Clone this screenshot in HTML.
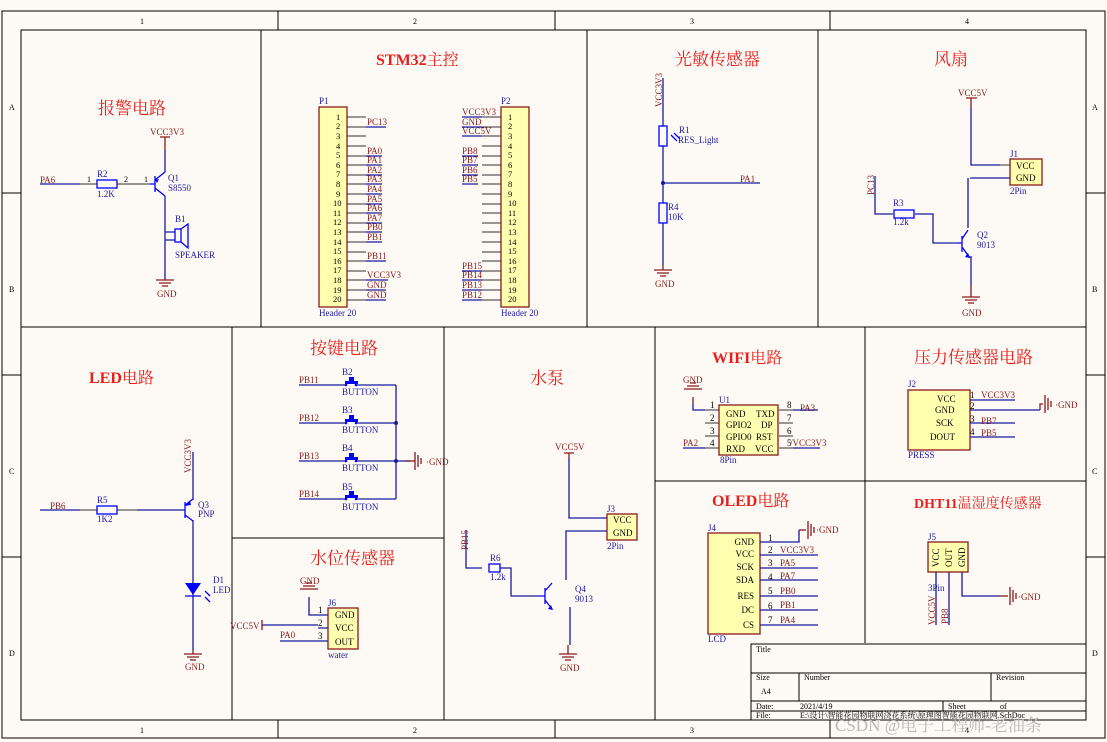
<!DOCTYPE html>
<html><head><meta charset="utf-8"><style>
html,body{margin:0;padding:0;background:#fff}
svg{display:block}
text{font-family:"Liberation Serif","Noto Serif CJK SC",serif}
.n{fill:#8b1a1a;font-size:9px}
.b{fill:#1a1aa0;font-size:9px}
.k{fill:#000;font-size:9px}
.t{fill:#e8201c;font-size:17px}
.tb{fill:#e8201c;font-size:16px;font-weight:bold}
.w{stroke:#1a1aa0;stroke-width:1.3;fill:none}
.r{stroke:#8b1a1a;stroke-width:1.3;fill:none}
.p{stroke:#333;stroke-width:1;fill:none}
.c{stroke:#0000ff;stroke-width:1.3;fill:none}
.f{stroke:#000;stroke-width:1;fill:none}
.h{fill:#ffffb0;stroke:#8b1a1a;stroke-width:1.3}
</style></head><body>
<svg width="1107" height="742" viewBox="0 0 1107 742" xmlns="http://www.w3.org/2000/svg">
<defs>
<g id="gnd"><path d="M-9 0H9M-6 3H6M-3 6H3" stroke="#8b1a1a" stroke-width="1.3"/></g>
<g id="gndr"><path d="M0 -9V9M3 -6V6M6 -3V3" stroke="#8b1a1a" stroke-width="1.3"/></g>
</defs>
<rect width="1107" height="742" fill="#fdfaf5"/>
<rect x="2" y="11" width="1103" height="727" class="f" stroke-width="1.5"/>
<rect x="21" y="30" width="1065" height="690" class="f" stroke-width="1.5"/>
<path class="f" d="M278 11V30M555 11V30M830 11V30M278 720V738M555 720V738M830 720V738M2 193H21M2 375H21M2 557H21M1086 193H1105M1086 375H1105M1086 557H1105"/>
<g class="k" style="font-size:8px">
<text x="140" y="24">1</text><text x="413" y="24">2</text><text x="690" y="24">3</text><text x="965" y="24">4</text>
<text x="140" y="733">1</text><text x="413" y="733">2</text><text x="690" y="733">3</text><text x="965" y="733">4</text>
<text x="9" y="110">A</text><text x="9" y="292">B</text><text x="9" y="474">C</text><text x="9" y="656">D</text>
<text x="1092" y="110">A</text><text x="1092" y="292">B</text><text x="1092" y="474">C</text><text x="1092" y="656">D</text>
</g>
<!-- section dividers -->
<path class="f" d="M261 30V327M587 30V327M818 30V327M21 327H1086M232 327V720M444 327V720M232 538H444M655 327V720M865 327V643M655 481H1086"/>
<!-- title block -->
<path class="f" d="M751 720V644H1086M751 673H1086M751 701H1086M751 711H1086M799 673V701M991 673V701M943 701V711"/>
<g class="k" style="font-size:8px">
<text x="756" y="652">Title</text><text x="756" y="680">Size</text><text x="761" y="694">A4</text><text x="804" y="680">Number</text><text x="996" y="680">Revision</text>
<text x="756" y="709">Date:</text><text x="800" y="709">2021/4/19</text><text x="948" y="709">Sheet</text><text x="1000" y="709">of</text>
<text x="756" y="718">File:</text><text x="800" y="718">E:\设计\智能花园物联网浇花系统\原理图智能花园物联网.SchDoc</text>
</g>
<text x="835" y="731" style="font-size:17px;fill:#b8b8b8" font-family="Liberation Sans,Noto Sans CJK SC,sans-serif">CSDN @电子工程师-老油条</text>

<!-- 报警电路 -->
<text class="t" x="98" y="114">报警电路</text>
<text class="n" x="150" y="135">VCC3V3</text>
<path class="r" d="M160 137H170M165 137V150"/><path class="w" d="M165 150V172M40 184H80"/>
<path class="p" d="M80 184H97M117 184H150"/><rect x="97" y="180" width="20" height="8" class="c"/>
<text class="n" x="40" y="183">PA6</text><text class="b" x="97" y="177">R2</text><text class="b" x="97" y="197">1.2K</text>
<text class="k" style="font-size:8px" x="87" y="182">1</text><text class="k" style="font-size:8px" x="124" y="182">2</text><text class="k" style="font-size:8px" x="144" y="182">1</text>
<path class="c" d="M155 176V192M150 184H155M155 180L165 172M155 188L165 196"/><path d="M155 180l4 -1l-2 4z" fill="#00f"/>
<text class="b" x="168" y="181">Q1</text><text class="b" x="168" y="191">S8550</text>
<path class="w" d="M165 196V280M165 232H175M165 240H175"/>
<rect x="175" y="229" width="6" height="13" class="c"/><path class="c" d="M181 229L188 224V248L181 242"/>
<text class="b" x="175" y="222">B1</text><text class="b" x="175" y="258">SPEAKER</text>
<use href="#gnd" x="165" y="280"/><text class="n" x="157" y="297">GND</text>

<!-- STM32 -->
<text class="tb" x="376" y="65">STM32<tspan font-weight="normal">主控</tspan></text>
<rect x="319" y="107" width="28" height="200" class="h"/><rect x="501" y="107" width="28" height="200" class="h"/>
<text class="b" x="319" y="104">P1</text><text class="b" x="501" y="104">P2</text>
<text class="b" x="319" y="316">Header 20</text><text class="b" x="501" y="316">Header 20</text>
<g class="k" style="font-size:8.5px">
<text x="336" y="120">1</text><text x="336" y="129">2</text><text x="336" y="139">3</text><text x="336" y="149">4</text><text x="336" y="158">5</text><text x="336" y="168">6</text><text x="336" y="177">7</text><text x="336" y="187">8</text><text x="336" y="197">9</text><text x="333" y="206">10</text><text x="333" y="216">11</text><text x="333" y="225">12</text><text x="333" y="235">13</text><text x="333" y="245">14</text><text x="333" y="254">15</text><text x="333" y="264">16</text><text x="333" y="273">17</text><text x="333" y="283">18</text><text x="333" y="293">19</text><text x="333" y="302">20</text>
<text x="508" y="120">1</text><text x="508" y="129">2</text><text x="508" y="139">3</text><text x="508" y="149">4</text><text x="508" y="158">5</text><text x="508" y="168">6</text><text x="508" y="177">7</text><text x="508" y="187">8</text><text x="508" y="197">9</text><text x="508" y="206">10</text><text x="508" y="216">11</text><text x="508" y="225">12</text><text x="508" y="235">13</text><text x="508" y="245">14</text><text x="508" y="254">15</text><text x="508" y="264">16</text><text x="508" y="273">17</text><text x="508" y="283">18</text><text x="508" y="293">19</text><text x="508" y="302">20</text>
</g>
<path class="p" d="M347 117h19M347 127h19M347 136h19M347 146h19M347 156h19M347 165h19M347 175h19M347 184h19M347 194h19M347 204h19M347 213h19M347 223h19M347 232h19M347 242h19M347 252h19M347 261h19M347 271h19M347 280h19M347 290h19M347 300h19"/>
<path class="p" d="M482 117h19M482 127h19M482 136h19M482 146h19M482 156h19M482 165h19M482 175h19M482 184h19M482 194h19M482 204h19M482 213h19M482 223h19M482 232h19M482 242h19M482 252h19M482 261h19M482 271h19M482 280h19M482 290h19M482 300h19"/>
<path class="w" d="M366 127h20M366 156h16M366 165h16M366 175h16M366 184h16M366 194h16M366 204h16M366 213h16M366 223h16M366 232h16M366 242h16M366 261h20M366 280h22M366 290h20M366 300h20M462 117h20M462 127h20M462 136h20M462 156h16M462 165h16M462 175h16M462 184h16M462 271h20M462 280h20M462 290h20M462 300h20"/>
<g class="n">
<text x="367" y="125">PC13</text><text x="367" y="154">PA0</text><text x="367" y="163">PA1</text><text x="367" y="173">PA2</text><text x="367" y="182">PA3</text><text x="367" y="192">PA4</text><text x="367" y="202">PA5</text><text x="367" y="211">PA6</text><text x="367" y="221">PA7</text><text x="367" y="230">PB0</text><text x="367" y="240">PB1</text><text x="367" y="259">PB11</text><text x="367" y="278">VCC3V3</text><text x="367" y="288">GND</text><text x="367" y="298">GND</text>
<text x="462" y="115">VCC3V3</text><text x="462" y="125">GND</text><text x="462" y="134">VCC5V</text><text x="462" y="154">PB8</text><text x="462" y="163">PB7</text><text x="462" y="173">PB6</text><text x="462" y="182">PB5</text><text x="462" y="269">PB15</text><text x="462" y="278">PB14</text><text x="462" y="288">PB13</text><text x="462" y="298">PB12</text>
</g>

<!-- 光敏 -->
<text class="t" x="675" y="65">光敏传感器</text>
<text class="n" transform="translate(662,107) rotate(-90)">VCC3V3</text>
<path class="w" d="M663 78V126M663 146V203M663 223V265M663 183H760"/>
<circle cx="663" cy="183" r="2" fill="#1a1aa0"/>
<rect x="659" y="126" width="8" height="20" class="c"/><rect x="659" y="203" width="8" height="20" class="c"/>
<path class="c" d="M671 135l6 6M674 133l6 6"/>
<text class="b" x="679" y="133">R1</text><text class="b" x="678" y="143">RES_Light</text>
<text class="b" x="668" y="210">R4</text><text class="b" x="668" y="220">10K</text>
<text class="n" x="740" y="182">PA1</text>
<use href="#gnd" x="663" y="270"/><path class="r" d="M663 265V270"/><text class="n" x="655" y="287">GND</text>

<!-- 风扇 -->
<text class="t" x="934" y="65">风扇</text>
<text class="n" x="958" y="96">VCC5V</text>
<path class="r" d="M966 98H977M971 98V108"/>
<path class="w" d="M971 108V165H1000M970 178H1010M968 178V228M875 176V214H893M915 214H933V243H958M971 256V285"/>
<path class="p" d="M1000 165H1010"/>
<rect x="1010" y="159" width="32" height="26" class="h"/>
<text class="k" x="1016" y="169">VCC</text><text class="k" x="1016" y="181">GND</text>
<text class="b" x="1010" y="157">J1</text><text class="b" x="1010" y="194">2Pin</text>
<text class="n" transform="translate(874,195) rotate(-90)">PC13</text>
<rect x="894" y="210" width="20" height="8" class="c"/>
<text class="b" x="893" y="206">R3</text><text class="b" x="893" y="225">1.2k</text>
<path class="c" d="M962 236V252M958 243H962M962 239L968 230M962 247L970 258"/><path d="M970 258l-5 -1l3 -4z" fill="#00f"/>
<text class="b" x="977" y="238">Q2</text><text class="b" x="977" y="248">9013</text>
<use href="#gnd" x="971" y="297"/><path class="r" d="M971 285V297"/><text class="n" x="962" y="316">GND</text>

<!-- LED -->
<text class="tb" x="89" y="383">LED<tspan font-weight="normal">电路</tspan></text>
<text class="n" x="50" y="509">PB6</text>
<path class="w" d="M40 510H80M137 510H185M193 452V500M193 520V650"/>
<path class="p" d="M80 510H97M117 510H137"/><rect x="97" y="506" width="20" height="8" class="c"/>
<text class="b" x="97" y="503">R5</text><text class="b" x="97" y="522">1K2</text>
<text class="n" transform="translate(191,473) rotate(-90)">VCC3V3</text>
<path class="c" d="M185 502V518M185 505L193 499M185 515L193 521"/><path d="M185 506l5 -5l1 4z" fill="#00f"/>
<text class="b" x="198" y="508">Q3</text><text class="b" x="198" y="517">PNP</text>
<path d="M185 583H201L193 595Z" fill="#00f"/><path class="c" d="M185 596H201M205 591l5 5M205 597l5 5"/>
<text class="b" x="213" y="583">D1</text><text class="b" x="213" y="593">LED</text>
<use href="#gnd" x="193" y="654"/><path class="r" d="M193 650V654"/><text class="n" x="185" y="670">GND</text>

<!-- 按键 -->
<text class="t" x="310" y="354">按键电路</text>
<g id="btn"><path class="w" d="M299 385H345M357 385H396"/><path d="M345 381H358V384H345Z M349 377H354V381H349Z" fill="#00f"/><circle cx="346" cy="385" r="1.3" fill="#00f"/><circle cx="356" cy="385" r="1.3" fill="#00f"/></g>
<use href="#btn" y="38"/><use href="#btn" y="76"/><use href="#btn" y="114"/>
<path class="w" d="M396 385V499M396 461H410"/>
<circle cx="396" cy="423" r="2" fill="#1a1aa0"/><circle cx="396" cy="461" r="2" fill="#1a1aa0"/>
<use href="#gndr" x="415" y="461"/><path class="r" d="M405 461H415"/><text class="n" x="426" y="465">·GND</text>
<g class="n"><text x="299" y="383">PB11</text><text x="299" y="421">PB12</text><text x="299" y="459">PB13</text><text x="299" y="497">PB14</text></g>
<g class="b"><text x="342" y="375">B2</text><text x="342" y="395">BUTTON</text><text x="342" y="413">B3</text><text x="342" y="433">BUTTON</text><text x="342" y="451">B4</text><text x="342" y="471">BUTTON</text><text x="342" y="490">B5</text><text x="342" y="510">BUTTON</text></g>

<!-- 水位 -->
<text class="t" x="310" y="564">水位传感器</text>
<text class="n" x="300" y="584">GND</text><use href="#gnd" x="309" y="595" transform="rotate(180 309 592)"/>
<path class="w" d="M309 597V615H328M262 625H318M318 628H328M280 641H328"/><path class="r" d="M262 620V630"/>
<rect x="328" y="608" width="30" height="41" class="h"/>
<g class="k"><text x="335" y="618">GND</text><text x="335" y="631">VCC</text><text x="335" y="645">OUT</text><text x="318" y="613">1</text><text x="318" y="626">2</text><text x="318" y="639">3</text></g>
<text class="b" x="328" y="606">J6</text><text class="b" x="328" y="658">water</text>
<text class="n" x="230" y="629">VCC5V</text><text class="n" x="280" y="638">PA0</text>

<!-- 水泵 -->
<text class="t" x="530" y="384">水泵</text>
<text class="n" x="555" y="450">VCC5V</text>
<path class="r" d="M564 453H574M569 453V458"/>
<path class="w" d="M569 458V518H607M607 531H566V580M466 530V568H482M500 568H511V596H540M570 607V645"/>
<rect x="607" y="514" width="30" height="26" class="h"/>
<text class="k" x="613" y="523">VCC</text><text class="k" x="613" y="536">GND</text>
<text class="b" x="607" y="512">J3</text><text class="b" x="607" y="549">2Pin</text>
<text class="n" transform="translate(468,550) rotate(-90)">PB15</text>
<rect x="489" y="564" width="11" height="8" class="c"/>
<text class="b" x="490" y="561">R6</text><text class="b" x="490" y="580">1.2k</text>
<path class="c" d="M545 588V604M540 596H545M545 591L552 583M545 600L552 609"/><path d="M553 610l-5 -1l3 -4z" fill="#00f"/>
<text class="b" x="575" y="592">Q4</text><text class="b" x="575" y="602">9013</text>
<use href="#gnd" x="568" y="654"/><path class="r" d="M568 645V654"/><text class="n" x="560" y="671">GND</text>

<!-- WIFI -->
<text class="tb" x="712" y="363">WIFI<tspan font-weight="normal">电路</tspan></text>
<text class="n" x="683" y="383">GND</text>
<use href="#gnd" x="693" y="395" transform="rotate(180 693 392)"/><path class="r" d="M693 397V404"/>
<path class="w" d="M693 404V410H705M683 448H705M793 410H818M793 448H820"/>
<path class="p" d="M705 410H719M705 423H719M705 436H719M705 448H719M779 410H793M779 423H793M779 436H793M779 448H793"/>
<rect x="719" y="405" width="59" height="50" class="h"/>
<g class="k"><text x="726" y="417">GND</text><text x="726" y="428">GPIO2</text><text x="726" y="440">GPIO0</text><text x="726" y="452">RXD</text><text x="756" y="417">TXD</text><text x="761" y="428">DP</text><text x="756" y="440">RST</text><text x="755" y="452">VCC</text>
<text x="710" y="408">1</text><text x="710" y="421">2</text><text x="710" y="434">3</text><text x="710" y="446">4</text><text x="787" y="408">8</text><text x="787" y="421">7</text><text x="787" y="434">6</text><text x="787" y="446">5</text></g>
<text class="b" x="719" y="403">U1</text><text class="b" x="720" y="463">8Pin</text>
<text class="n" x="800" y="411">PA3</text><text class="n" x="683" y="446">PA2</text><text class="n" x="790" y="446">/VCC3V3</text>

<!-- 压力 -->
<text class="t" x="914" y="363">压力传感器电路</text>
<rect x="908" y="390" width="62" height="60" class="h"/>
<g class="k"><text x="937" y="402">VCC</text><text x="935" y="413">GND</text><text x="936" y="426">SCK</text><text x="930" y="440">DOUT</text>
<text x="970" y="398">1</text><text x="970" y="409">2</text><text x="970" y="422">3</text><text x="970" y="435">4</text></g>
<path class="w" d="M970 400H1015M970 410H1040M970 423H1015M970 437H1015"/>
<path class="r" d="M1040 410V404H1043"/><use href="#gndr" x="1045" y="404"/>
<text class="n" x="1055" y="408">·GND</text>
<text class="n" x="981" y="398">VCC3V3</text><text class="n" x="981" y="424">PB7</text><text class="n" x="981" y="436">PB5</text>
<text class="b" x="908" y="387">J2</text><text class="b" x="908" y="458">PRESS</text>

<!-- OLED -->
<text class="tb" x="712" y="506">OLED<tspan font-weight="normal">电路</tspan></text>
<rect x="708" y="533" width="52" height="101" class="h"/>
<g class="k" text-anchor="end"><text x="754" y="545">GND</text><text x="754" y="557">VCC</text><text x="754" y="570">SCK</text><text x="754" y="583">SDA</text><text x="754" y="599">RES</text><text x="754" y="613">DC</text><text x="754" y="628">CS</text></g>
<g class="k"><text x="768" y="541">1</text><text x="768" y="553">2</text><text x="768" y="566">3</text><text x="768" y="580">4</text><text x="768" y="594">5</text><text x="768" y="609">6</text><text x="768" y="623">7</text></g>
<path class="w" d="M760 542H799V530M760 555H818M760 568H818M760 580H818M760 596H818M760 610H818M760 625H818"/>
<path class="r" d="M799 530H806"/><use href="#gndr" x="808" y="530"/>
<text class="n" x="816" y="533">·GND</text>
<g class="n"><text x="780" y="553">VCC3V3</text><text x="780" y="566">PA5</text><text x="780" y="579">PA7</text><text x="780" y="594">PB0</text><text x="780" y="608">PB1</text><text x="780" y="623">PA4</text></g>
<text class="b" x="708" y="531">J4</text><text class="b" x="708" y="642">LCD</text>

<!-- DHT11 -->
<text class="tb" x="914" y="508" style="font-size:14px">DHT11<tspan font-weight="normal">温湿度传感器</tspan></text>
<rect x="928" y="542" width="40" height="30" class="h"/>
<g class="k"><text transform="translate(939,567) rotate(-90)">VCC</text><text transform="translate(952,567) rotate(-90)">OUT</text><text transform="translate(965,567) rotate(-90)">GND</text></g>
<path class="w" d="M936 572V625M949 572V625M962 572V596H1000"/>
<path class="r" d="M1000 596H1008"/><use href="#gndr" x="1010" y="596"/>
<text class="n" x="1018" y="600">·GND</text>
<text class="b" x="928" y="540">J5</text><text class="b" x="928" y="591">3Pin</text>
<text class="n" transform="translate(935,625) rotate(-90)">VCC5V</text><text class="n" transform="translate(948,624) rotate(-90)">PB8</text>
</svg>
</body></html>
